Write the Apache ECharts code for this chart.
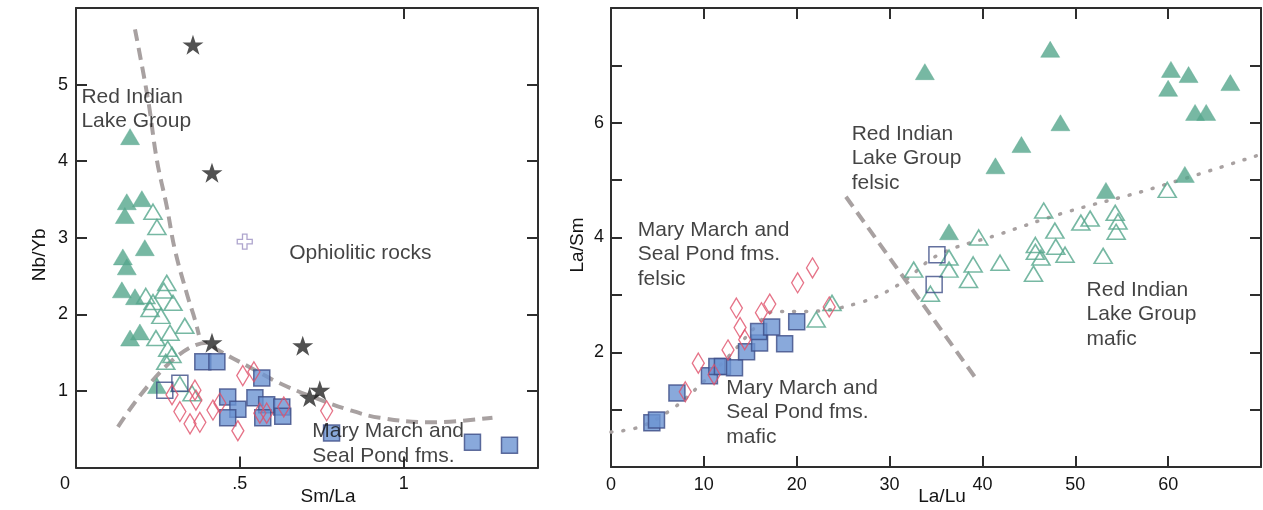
<!DOCTYPE html>
<html>
<head>
<meta charset="utf-8">
<script src="https://cdn.jsdelivr.net/npm/echarts@6/dist/echarts.min.js"></script>
<style>
html,body{margin:0;padding:0;background:#fff;}
#chart{width:1263px;height:510px;}
</style>
</head>
<body>
<div id="chart"></div>
<script>
// ---------- Left panel: Sm/La vs Nb/Yb ----------
const leftXTicks = ['0', '.5', '1'];
const leftYTicks = ['1', '2', '3', '4', '5'];
const leftStars = [[0.357,5.52],[0.415,3.85],[0.415,1.63],[0.692,1.59],[0.744,1.01],[0.713,0.92]];
const leftCross = [[0.515,2.95]];
const leftFilledTri = [[0.165,4.32],[0.155,3.47],[0.201,3.51],[0.149,3.29],[0.210,2.87],[0.143,2.75],[0.155,2.62],[0.140,2.32],[0.180,2.23],[0.165,1.69],[0.195,1.77],[0.247,1.07]];
const leftOpenTri = [[0.235,3.34],[0.247,3.14],[0.277,2.41],[0.268,2.31],[0.213,2.24],[0.235,2.16],[0.296,2.15],[0.226,2.07],[0.259,1.98],[0.332,1.85],[0.244,1.69],[0.287,1.76],[0.280,1.55],[0.293,1.47],[0.274,1.38],[0.317,1.09],[0.354,0.97]];
const leftOpenSq = [[0.271,1.01],[0.317,1.10]];
const leftFilledSq = [[0.387,1.38],[0.430,1.38],[0.567,1.17],[0.463,0.92],[0.494,0.76],[0.463,0.65],[0.546,0.91],[0.582,0.82],[0.628,0.79],[0.570,0.65],[0.631,0.67],[0.780,0.45],[1.210,0.33],[1.323,0.29]];
const leftDiamonds = [[0.293,0.95],[0.317,0.73],[0.348,0.57],[0.378,0.59],[0.363,1.01],[0.366,0.88],[0.418,0.75],[0.439,0.84],[0.509,1.20],[0.543,1.25],[0.494,0.48],[0.561,0.71],[0.582,0.71],[0.634,0.79],[0.765,0.74]];
const leftCurveA = [[0.180,5.72],[0.220,4.80],[0.247,4.01],[0.277,3.41],[0.302,2.84],[0.341,2.23],[0.363,1.93],[0.375,1.73]];
const leftCurveB = [[0.128,0.53],[0.399,1.63],[0.430,1.54],[0.530,1.31],[0.622,1.10],[0.723,0.92],[0.835,0.75],[0.927,0.65],[1.079,0.59],[1.271,0.65]];
const leftTexts = [[0.018,4.99,'Red Indian\nLake Group'],[0.652,2.95,'Ophiolitic rocks'],[0.7226,0.627,'Mary March and\nSeal Pond fms.']];

// ---------- Right panel: La/Lu vs La/Sm ----------
const rightXTicks = ['0','10','20','30','40','50','60'];
const rightYTicks = ['2','4','6'];
const rightFilledTri = [[33.8,6.89],[47.3,7.28],[48.4,6.00],[44.2,5.62],[41.4,5.25],[60.3,6.93],[62.2,6.84],[60.0,6.60],[62.9,6.18],[64.1,6.18],[66.7,6.70],[61.8,5.10],[53.3,4.82],[36.4,4.10]];
const rightOpenTri = [[22.1,2.57],[23.8,2.86],[32.6,3.44],[34.4,3.02],[36.4,3.65],[36.4,3.44],[38.5,3.26],[39.0,3.53],[39.6,4.00],[41.9,3.56],[45.5,3.37],[45.7,3.75],[45.7,3.87],[46.3,3.65],[46.6,4.47],[47.8,4.12],[47.9,3.84],[48.9,3.70],[50.6,4.26],[51.6,4.33],[53.0,3.68],[54.3,4.43],[54.6,4.28],[54.4,4.10],[59.9,4.83]];
const rightOpenSq = [[35.1,3.70],[34.8,3.18]];
const rightFilledSq = [[4.4,0.77],[4.9,0.82],[7.1,1.29],[10.6,1.59],[11.4,1.75],[12.0,1.75],[13.3,1.73],[14.6,2.01],[16.0,2.16],[15.9,2.36],[17.3,2.44],[18.7,2.15],[20.0,2.53]];
const rightDiamonds = [[8.0,1.31],[9.4,1.81],[11.1,1.61],[12.6,2.04],[13.5,2.77],[13.9,2.43],[14.4,2.22],[16.2,2.69],[17.1,2.84],[20.1,3.21],[21.7,3.47],[23.5,2.79]];
const rightDashed = [[25.3,4.71],[39.4,1.52]];
const rightDotted = [[0,0.61],[3.1,0.70],[6.4,0.99],[9.6,1.43],[12.8,1.95],[15.5,2.43],[17.6,2.71],[20.8,2.71],[26.7,2.86],[31.0,3.18],[35.3,3.70],[41.7,4.05],[49.2,4.45],[57.8,4.83],[69.8,5.44]];
const rightTexts = [[25.97,6.01,'Red Indian\nLake Group\nfelsic'],[2.93,4.34,'Mary March and\nSeal Pond fms.\nfelsic'],[12.47,1.58,'Mary March and\nSeal Pond fms.\nmafic'],[51.27,3.29,'Red Indian\nLake Group\nmafic']];

const FONT = "'Liberation Sans', Arial, Helvetica, sans-serif";
const AXC = '#2e2e2e';
const TXT = '#141414';
const GREEN = '#55a68c';
const BLUE = '#6b93d2';
const NAVY = '#3c4c86';
const RED = '#e0506a';
const LINEC = '#a8a1a1';
const STAR = 'path://M50,0 L61.8,35.4 L99,35.4 L68.9,57.3 L80.3,92.7 L50,70.8 L19.7,92.7 L31.1,57.3 L1,35.4 L38.2,35.4 Z';
const PLUS = 'path://M35,0 H65 V35 H100 V65 H65 V100 H35 V65 H0 V35 H35 Z';

function axisBase(extra) {
  return Object.assign({
    type: 'value',
    nameMoveOverlap: false,
    axisLine: {show: true, onZero: false, lineStyle: {color: AXC, width: 2}},
    axisTick: {show: true, inside: true, length: 11, lineStyle: {color: AXC, width: 2}},
    splitLine: {show: false},
    axisLabel: {color: TXT, fontSize: 18, fontFamily: FONT},
    nameTextStyle: {color: TXT, fontSize: 19, fontFamily: FONT}
  }, extra);
}

const option = {
  animation: false,
  backgroundColor: '#fff',
  grid: [
    {left: 76, top: 8, width: 462, height: 459.5, outerBoundsMode: 'none', containLabel: false},
    {left: 611, top: 8, width: 650, height: 459, outerBoundsMode: 'none', containLabel: false}
  ],
  xAxis: [
    axisBase({gridIndex: 0, position: 'bottom', min: 0, max: 1.41, interval: 0.5,
      name: 'Sm/La', nameLocation: 'middle', nameGap: 20,
      nameTextStyle: {color: TXT, fontSize: 19, fontFamily: FONT, padding: [0, 0, 0, 42]},
      axisLabel: {color: TXT, fontSize: 18, fontFamily: FONT, margin: 8,
        formatter: function (v) {
          const i = Math.round(v / 0.5);
          if (Math.abs(i * 0.5 - v) > 1e-6 || i >= leftXTicks.length) return '';
          if (i === 0) return '{z|' + leftXTicks[0] + '}';
          return leftXTicks[i];
        },
        rich: {z: {fontSize: 18, fontFamily: FONT, color: TXT, padding: [0, 22, 0, 0]}}
      }}),
    axisBase({gridIndex: 0, position: 'top', min: 0, max: 1.41, interval: 1, axisLabel: {show: false}}),
    axisBase({gridIndex: 1, position: 'bottom', min: 0, max: 70, interval: 10,
      name: 'La/Lu', nameLocation: 'middle', nameGap: 20,
      nameTextStyle: {color: TXT, fontSize: 19, fontFamily: FONT, padding: [0, 0, 0, 12]},
      axisLabel: {color: TXT, fontSize: 18, fontFamily: FONT, margin: 9,
        formatter: function (v) {
          const i = Math.round(v / 10);
          if (Math.abs(i * 10 - v) > 1e-6 || i >= rightXTicks.length) return '';
          return rightXTicks[i];
        }}}),
    axisBase({gridIndex: 1, position: 'top', min: 0, max: 70, interval: 10, axisLabel: {show: false}})
  ],
  yAxis: [
    axisBase({gridIndex: 0, position: 'left', min: 0, max: 6, interval: 1,
      name: 'Nb/Yb', nameLocation: 'middle', nameGap: 27,
      nameTextStyle: {color: TXT, fontSize: 19, fontFamily: FONT, padding: [0, 34, 0, 0]},
      axisLabel: {color: TXT, fontSize: 18, fontFamily: FONT, margin: 8,
        formatter: function (v) {
          const i = Math.round(v) - 1;
          if (Math.abs(Math.round(v) - v) > 1e-6 || i < 0 || i >= leftYTicks.length) return '';
          return leftYTicks[i];
        }}}),
    axisBase({gridIndex: 0, position: 'right', min: 0, max: 6, interval: 1, axisLabel: {show: false}}),
    axisBase({gridIndex: 1, position: 'left', min: 0, max: 8, interval: 1,
      name: 'La/Sm', nameLocation: 'middle', nameGap: 24,
      nameTextStyle: {color: TXT, fontSize: 19, fontFamily: FONT, padding: [0, 15, 0, 0]},
      axisLabel: {color: TXT, fontSize: 18, fontFamily: FONT, margin: 7,
        formatter: function (v) {
          const r = Math.round(v);
          if (Math.abs(r - v) > 1e-6 || r % 2 !== 0 || r === 0) return '';
          const i = r / 2 - 1;
          return i < rightYTicks.length ? rightYTicks[i] : '';
        }}}),
    axisBase({gridIndex: 1, position: 'right', min: 0, max: 8, interval: 1, axisLabel: {show: false}})
  ],
  series: []
};

function scatter(xi, yi, data, symbol, size, style, z) {
  return {type: 'scatter', xAxisIndex: xi, yAxisIndex: yi, data: data, symbol: symbol,
    symbolSize: size, itemStyle: style, z: z || 3, silent: true, emphasis: {disabled: true}};
}
function line(xi, yi, data, lineStyle, smooth) {
  return {type: 'line', xAxisIndex: xi, yAxisIndex: yi, data: data, showSymbol: false,
    symbol: 'none', smooth: smooth ? 0.4 : false, lineStyle: lineStyle, z: 2, silent: true,
    emphasis: {disabled: true}};
}
function texts(xi, yi, data) {
  return {type: 'scatter', xAxisIndex: xi, yAxisIndex: yi, data: data, symbolSize: 1,
    itemStyle: {color: 'rgba(0,0,0,0)'}, z: 6, silent: true,
    label: {show: true, position: [0, 0], align: 'left', verticalAlign: 'top',
      formatter: function (p) { return p.data[2]; },
      color: TXT, fontSize: 21, lineHeight: 24.5, fontFamily: FONT}};
}

const dashStyle = {color: LINEC, width: 4, type: [12, 7]};
const dotStyle = {color: LINEC, width: 3.5, type: [1, 11], cap: 'round'};

const openTriStyle = {color: 'rgba(255,255,255,0)', borderColor: GREEN, borderWidth: 1.6};
const filledTriStyle = {color: GREEN, borderColor: GREEN, borderWidth: 0.5};
const sqStyle = {color: BLUE, borderColor: NAVY, borderWidth: 1.5};
const openSqStyle = {color: 'rgba(255,255,255,0)', borderColor: NAVY, borderWidth: 1.5};
const diaStyle = {color: 'rgba(255,255,255,0)', borderColor: RED, borderWidth: 1.4};

option.series.push(
  line(0, 0, leftCurveA, dashStyle, true),
  line(0, 0, leftCurveB, dashStyle, true),
  scatter(0, 0, leftFilledTri, 'triangle', [19, 16], filledTriStyle, 3),
  scatter(0, 0, leftOpenTri, 'triangle', [18, 15], openTriStyle, 3),
  scatter(0, 0, leftFilledSq, 'rect', [16, 16], sqStyle, 4),
  scatter(0, 0, leftOpenSq, 'rect', [16, 16], openSqStyle, 4),
  scatter(0, 0, leftDiamonds, 'diamond', [12, 20], diaStyle, 5),
  scatter(0, 0, leftStars, STAR, [21, 20], {color: '#262626'}, 5),
  scatter(0, 0, leftCross, PLUS, [15, 15], {color: '#fff', borderColor: '#9a8fc0', borderWidth: 1.3}, 5),
  texts(0, 0, leftTexts),

  line(2, 2, rightDashed, dashStyle, false),
  line(2, 2, rightDotted, dotStyle, true),
  scatter(2, 2, rightFilledTri, 'triangle', [19, 16], filledTriStyle, 3),
  scatter(2, 2, rightOpenTri, 'triangle', [18, 15], openTriStyle, 3),
  scatter(2, 2, rightFilledSq, 'rect', [16, 16], sqStyle, 4),
  scatter(2, 2, rightOpenSq, 'rect', [16, 16], openSqStyle, 4),
  scatter(2, 2, rightDiamonds, 'diamond', [12, 20], diaStyle, 5),
  texts(2, 2, rightTexts)
);

const chart = echarts.init(document.getElementById('chart'), null, {renderer: 'canvas'});
chart.setOption(option);
</script>
</body>
</html>
